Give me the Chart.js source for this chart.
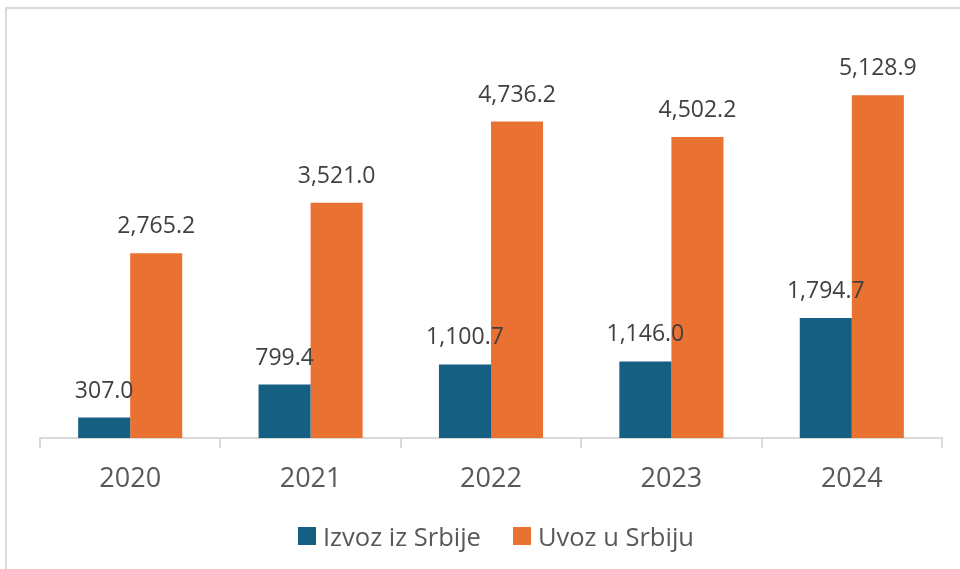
<!DOCTYPE html>
<html>
<head>
<meta charset="utf-8">
<script src="https://cdn.jsdelivr.net/npm/chart.js@4.4.1/dist/chart.umd.min.js"></script>
<style>
  html, body { margin: 0; padding: 0; background: #fff; overflow: hidden; }
  #okvir { position: absolute; left: 5px; top: 7px; width: 1000px; height: 620px; border: 2px solid #d9d9d9; box-sizing: border-box; }
  #wrap { position: absolute; left: 0; top: 0; width: 960px; height: 569px; }
  #legenda { position: absolute; left: 298px; top: 521px; height: 30px; display: flex; align-items: center; font-family: 'Open Sans', sans-serif; font-size: 25.5px; color: #595959; }
  #legenda .stavka { display: flex; align-items: center; margin-right: 32px; line-height: 30px; }
  #legenda .kockica { width: 18px; height: 18px; margin-right: 7px; }
</style>
</head>
<body>
<div id="okvir"></div>
<div id="wrap"><canvas id="grafik"></canvas></div>
<div id="legenda"></div>
<script>
const godine = ["2020", "2021", "2022", "2023", "2024"];
const izvoz = [307.0, 799.4, 1100.7, 1146.0, 1794.7];
const uvoz = [2765.2, 3521.0, 4736.2, 4502.2, 5128.9];
const nazivi = ["Izvoz iz Srbije", "Uvoz u Srbiju"];
const boje = ["#156082", "#E97132"];

const formatBroja = (v) => v.toLocaleString("en-US", { minimumFractionDigits: 1, maximumFractionDigits: 1 });

// oznake vrednosti iznad stubova
const oznakePlugin = {
  id: "oznake",
  afterDatasetsDraw(chart) {
    const ctx = chart.ctx;
    ctx.save();
    ctx.font = "23px 'Open Sans'";
    ctx.fillStyle = "#404040";
    ctx.textAlign = "center";
    ctx.textBaseline = "middle";
    chart.data.datasets.forEach((ds, i) => {
      chart.getDatasetMeta(i).data.forEach((bar, j) => {
        ctx.fillText(formatBroja(ds.data[j]), bar.x, bar.y - 26.5);
      });
    });
    ctx.restore();
  }
};

const grafik = new Chart(document.getElementById("grafik"), {
  type: "bar",
  data: {
    labels: godine,
    datasets: [
      { label: nazivi[0], data: izvoz, backgroundColor: boje[0] },
      { label: nazivi[1], data: uvoz, backgroundColor: boje[1] }
    ]
  },
  options: {
    responsive: true,
    maintainAspectRatio: false,
    animation: false,
    categoryPercentage: 0.577,
    barPercentage: 1,
    layout: { padding: { left: 40, right: 18, top: 37, bottom: 59 } },
    scales: {
      y: { display: false, min: 0, max: 6000 },
      x: {
        grid: { display: true, drawOnChartArea: false, color: "#d9d9d9", lineWidth: 2, tickLength: 10 },
        border: { display: true, color: "#d9d9d9", width: 2 },
        ticks: { color: "#595959", padding: 16.5, font: { family: "'Open Sans'", size: 27, lineHeight: 29 / 27 } }
      }
    },
    plugins: {
      tooltip: { enabled: false },
      legend: { display: false }
    }
  },
  plugins: [oznakePlugin]
});

// legenda ispod grafika
function napraviLegendu(chart) {
  const legenda = document.getElementById("legenda");
  legenda.innerHTML = "";
  chart.data.datasets.forEach((ds) => {
    const stavka = document.createElement("span");
    stavka.className = "stavka";
    const kockica = document.createElement("span");
    kockica.className = "kockica";
    kockica.style.background = ds.backgroundColor;
    const tekst = document.createElement("span");
    tekst.textContent = ds.label;
    stavka.appendChild(kockica);
    stavka.appendChild(tekst);
    legenda.appendChild(stavka);
  });
}

napraviLegendu(grafik);
</script>
</body>
</html>
